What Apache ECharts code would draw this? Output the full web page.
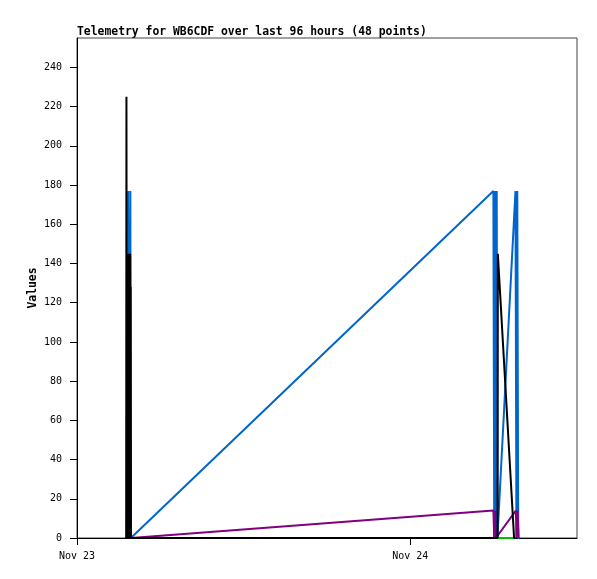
<!DOCTYPE html>
<html><head><meta charset="utf-8">
<script src="https://cdn.jsdelivr.net/npm/echarts@6/dist/echarts.min.js"></script>
<style>html,body{margin:0;padding:0;background:#fff}#c{width:597px;height:579px}</style>
</head><body><div id="c"></div>
<script>
const titleText = 'Telemetry for WB6CDF over last 96 hours (48 points)';
const yAxisName = 'Values';
// x positions are hours since Nov 23 00:00
const xMin = 0, xMax = 36;
const xTickHours = [0, 24];
const xTickLabels = ['Nov 23', 'Nov 24'];
const yTicks = [0, 20, 40, 60, 80, 100, 120, 140, 160, 180, 200, 220, 240];
const yMax = 255;

const greenTimes  = [3.89, 30.00, 30.28, 31.50];
const greenValues = [0, 0, 0, 0];

const blueTimes  = [3.68, 3.70, 3.84, 3.88, 29.98, 30.04, 30.10, 30.16, 30.22, 30.27, 31.57, 31.64, 31.70, 31.77, 31.85];
const blueValues = [177, 0, 177, 0, 177, 0, 177, 0, 177, 0, 177, 0, 177, 0, 0];

const purpleTimes  = [3.86, 3.87, 3.89, 29.98, 30.04, 30.10, 30.16, 30.28, 31.60, 31.66, 31.72, 31.80];
const purpleValues = [0, 128, 0, 14, 0, 14, 0, 0, 14, 0, 14, 0];

const blackTimes  = [3.54, 3.56, 3.59, 3.62, 3.67, 3.72, 3.78, 3.83, 3.88, 30.00, 30.28, 30.30, 31.47, 31.55];
const blackValues = [0, 225, 0, 145, 0, 145, 0, 145, 0, 0, 0, 145, 0, 0];

const FONT = 'DejaVu Sans Mono';
function pairs(t, v) { return t.map((x, i) => [x, v[i]]); }
function line(name, color, t, v) {
  return { name, type: 'line', data: pairs(t, v), showSymbol: false, symbol: 'none',
    lineStyle: { color, width: 2 }, itemStyle: { color }, animation: false };
}

const chart = echarts.init(document.getElementById('c'), null, { renderer: 'canvas' });
chart.setOption({
  animation: false,
  backgroundColor: '#ffffff',
  title: { text: titleText, left: 77, top: 27, padding: 0,
    textStyle: { fontFamily: FONT, fontSize: 11.4, fontWeight: 'bold', color: '#000' } },
  grid: { left: 77, right: 20, top: 38, bottom: 41, show: true, borderColor: '#444', borderWidth: 1, backgroundColor: 'transparent' },
  xAxis: {
    type: 'value', min: xMin, max: xMax,
    splitLine: { show: false },
    axisLine: { lineStyle: { color: '#000', width: 1 } },
    axisTick: { show: true, length: 7, lineStyle: { color: '#000' }, customValues: xTickHours },
    axisLabel: { customValues: xTickHours, margin: 13, color: '#000', fontFamily: FONT, fontSize: 10,
      formatter: v => xTickLabels[xTickHours.indexOf(v)] || '' }
  },
  yAxis: {
    type: 'value', min: 0, max: yMax,
    name: yAxisName, nameLocation: 'middle', nameGap: 38, nameRotate: 90, nameMoveOverlap: false,
    nameTextStyle: { fontFamily: FONT, fontSize: 11.4, fontWeight: 'bold', color: '#000' },
    splitLine: { show: false },
    axisLine: { show: true, lineStyle: { color: '#000', width: 1 } },
    axisTick: { show: true, length: 7, lineStyle: { color: '#000' }, customValues: yTicks },
    axisLabel: { customValues: yTicks, margin: 15, color: '#000', fontFamily: FONT, fontSize: 10 }
  },
  series: [
    line('green', '#00c000', greenTimes, greenValues),
    line('blue', '#0066cc', blueTimes, blueValues),
    line('purple', '#800080', purpleTimes, purpleValues),
    line('black', '#000000', blackTimes, blackValues)
  ]
});
</script></body></html>
